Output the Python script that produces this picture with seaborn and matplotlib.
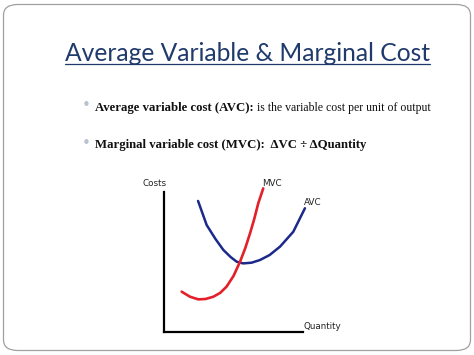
import matplotlib
matplotlib.use("Agg")
import matplotlib.pyplot as plt
import seaborn as sns
import pandas as pd
from matplotlib.patches import FancyBboxPatch
from matplotlib.lines import Line2D

# curve points (quantity, cost)
avc_q = [2.45, 3.07, 3.7, 4.27, 4.8, 5.23, 5.7, 6.3, 6.9, 7.6, 8.35, 9.3, 10.14]
avc_c = [9.36, 7.64, 6.65, 5.86, 5.35, 5.02, 4.9, 4.95, 5.14, 5.5, 6.1, 7.16, 8.84]
mvc_q = [1.27, 1.87, 2.47, 3.0, 3.55, 4.05, 4.5, 5.0, 5.47, 5.85, 6.19, 6.5, 6.78, 7.14]
mvc_c = [2.88, 2.52, 2.33, 2.36, 2.52, 2.8, 3.24, 4.0, 5.02, 6.0, 7.05, 8.1, 9.19, 10.26]

title = "Average Variable & Marginal Cost"
bullets = [
    ("Average variable cost (AVC):", " is the variable cost per unit of output"),
    ("Marginal variable cost (MVC):  \u0394VC \u00f7 \u0394Quantity", ""),
]

sns.set_style("white")
W, H = 474, 355
fig = plt.figure(figsize=(W / 100, H / 100), dpi=100)

# slide border
border = FancyBboxPatch((3.5 / W, 4.5 / H), 467 / W, 346 / H,
                        boxstyle="round,pad=0,rounding_size=0.03",
                        transform=fig.transFigure, fill=False,
                        edgecolor="#a0a0a0", linewidth=0.9)
fig.patches.append(border)

# title
t = fig.text(65 / W, 1 - 61 / H, title, fontsize=17.7, color="#1f3a6b",
             family="Lato", fontweight="normal", ha="left", va="baseline")
fig.canvas.draw()
bb = t.get_window_extent()
fig.add_artist(Line2D([bb.x0 / W, bb.x1 / W], [1 - 64 / H, 1 - 64 / H],
                      transform=fig.transFigure, color="#1f3a6b", lw=0.9))

# bullets
for i, (bold, rest) in enumerate(bullets):
    y = 1 - (111 + 37 * i) / H
    fig.text(86 / W, y + 0.5 / H, "\u2022", fontsize=11, color="#b8c2d0",
             ha="center", va="baseline")
    b = fig.text(95 / W, y, bold, fontsize=9.2, fontweight="bold",
                 family="Liberation Serif", color="#111111", va="baseline")
    if rest:
        fig.canvas.draw()
        x1 = b.get_window_extent().x1
        fig.text(x1 / W, y, rest, fontsize=8.5, family="Liberation Serif",
                 color="#111111", va="baseline")

# chart
ax = fig.add_axes([164 / W, (H - 332) / H, 11 * 13.9 / W, 11 * 14 / H])
df_avc = pd.DataFrame({"q": avc_q, "c": avc_c})
df_mvc = pd.DataFrame({"q": mvc_q, "c": mvc_c})
sns.lineplot(data=df_avc, x="q", y="c", ax=ax, color="#1b2a8a", lw=1.8,
             sort=False, clip_on=False)
sns.lineplot(data=df_mvc, x="q", y="c", ax=ax, color="#e3202a", lw=1.9,
             sort=False, clip_on=False)
ax.set_xlim(0, 11)
ax.set_ylim(0, 11)
ax.set_xticks([])
ax.set_yticks([])
ax.set_xlabel("")
ax.set_ylabel("")
for s in ["top", "right"]:
    ax.spines[s].set_visible(False)
for s in ["left", "bottom"]:
    ax.spines[s].set_color("black")
    ax.spines[s].set_linewidth(1.6)
ax.spines["left"].set_bounds(0, 10)
ax.spines["bottom"].set_bounds(0, 10)
ax.patch.set_alpha(0)

lab = dict(fontsize=6.3, color="#222222", family="DejaVu Sans")
ax.text(-0.7, 10.3, "Costs", ha="center", va="bottom", **lab)
ax.text(10.0, 0.05, "Quantity", ha="left", va="bottom", **lab)
ax.text(7.05, 10.3, "MVC", ha="left", va="bottom", **lab)
ax.text(10.05, 8.95, "AVC", ha="left", va="bottom", **lab)

fig.savefig("out.png", dpi=100)
